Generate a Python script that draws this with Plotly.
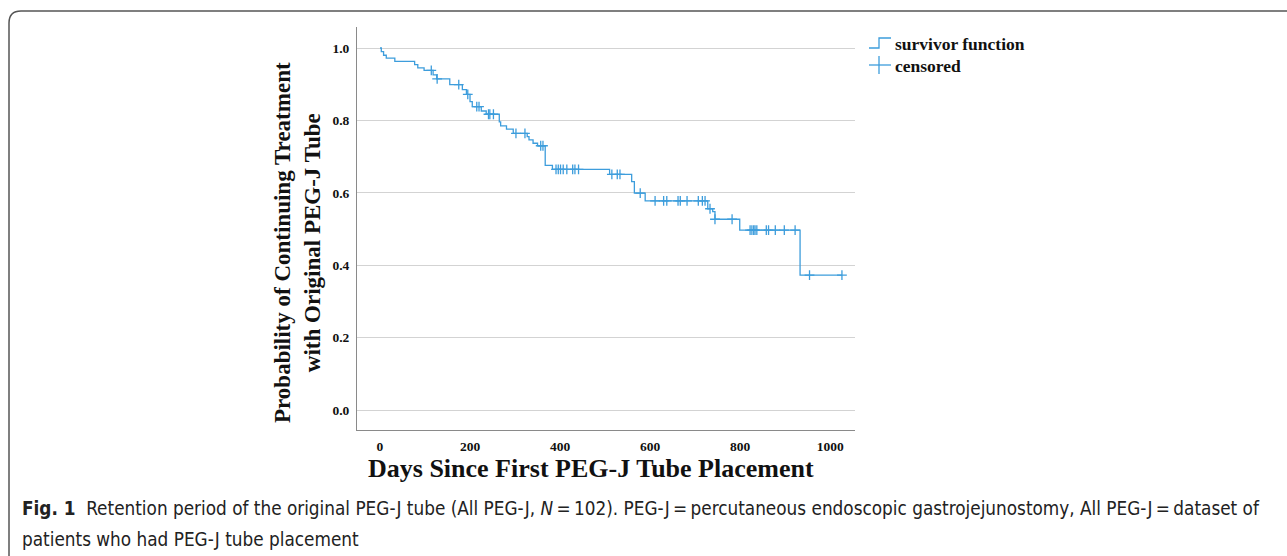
import numpy as np
import plotly.graph_objects as go

# ---- data ----
step_days = [0, 3, 8, 14, 33, 77, 84, 98, 118, 126, 155, 183, 192, 200, 205, 225, 236,
             265, 268, 281, 296, 327, 331, 340, 350, 367, 383, 510, 559, 565, 589,
             728, 739, 744, 799, 933]
step_surv = [1.0, 0.99, 0.98, 0.972, 0.963, 0.954, 0.945, 0.938, 0.926, 0.915, 0.899,
             0.885, 0.872, 0.852, 0.838, 0.826, 0.817, 0.796, 0.785, 0.776, 0.764,
             0.755, 0.746, 0.737, 0.730, 0.676, 0.665, 0.651, 0.631, 0.599, 0.578,
             0.556, 0.548, 0.527, 0.497, 0.373]
last_day = 1026
censor_days = [114, 127, 175, 195, 215, 220, 241, 244, 252, 302, 322, 357, 362,
               391, 396, 401, 407, 415, 428, 433, 441, 515, 527, 533, 578,
               611, 630, 637, 662, 667, 682, 707, 716, 722, 733, 744, 782,
               822, 826, 830, 833, 837, 858, 863, 878, 898, 922, 954, 1026]

x_ticks = [0, 200, 400, 600, 800, 1000]
y_ticks = [0.0, 0.2, 0.4, 0.6, 0.8, 1.0]
y_tick_text = ["0.0", "0.2", "0.4", "0.6", "0.8", "1.0"]

x_title = "Days Since First PEG-J Tube Placement"
y_title = "Probability of Continuing Treatment<br>with Original PEG-J Tube"
legend_labels = ["survivor function", "censored"]
caption_1 = ("<b>Fig. 1</b>  Retention period of the original PEG-J tube (All PEG-J, <i>N</i>\u2009=\u2009102). "
             "PEG-J\u2009=\u2009percutaneous endoscopic gastrojejunostomy, All PEG-J\u2009=\u2009dataset of")
caption_2 = "patients who had PEG-J tube placement"

# ---- layout geometry ----
W, H = 1287, 556
L, R, T, B = 357, 855, 27, 430
BLUE = "#3d9ddc"

def px(x):
    return (x - L) / (R - L)

def py(y):
    return (B - y) / (B - T)

curve_x = list(step_days) + [last_day]
curve_y = list(step_surv) + [step_surv[-1]]
idx = np.searchsorted(np.array(step_days), np.array(censor_days), side="right") - 1
censor_y = [step_surv[i] for i in idx]

fig = go.Figure()
fig.add_trace(go.Scatter(x=curve_x, y=curve_y, mode="lines", line_shape="hv",
                         line=dict(color=BLUE, width=1.3), showlegend=False, hoverinfo="skip"))
fig.add_trace(go.Scatter(x=censor_days, y=censor_y, mode="markers",
                         marker=dict(symbol="cross-thin", size=7, line=dict(color=BLUE, width=1.3)),
                         showlegend=False, hoverinfo="skip"))

serif = "Liberation Serif, Times New Roman, serif"
tickfont = dict(family=serif, size=13.5, color="#111", weight="bold")
fig.update_layout(
    width=W, height=H,
    margin=dict(l=L, r=W - R, t=T, b=H - B),
    paper_bgcolor="white", plot_bgcolor="white",
    xaxis=dict(range=[-51, 1055], tickvals=x_ticks, ticktext=[str(v) for v in x_ticks],
               showgrid=False, zeroline=False, showline=True, linecolor="#8a8a8a", linewidth=1,
               ticks="", tickfont=tickfont, ticklabelstandoff=4, fixedrange=True),
    yaxis=dict(range=[-0.055, 1.058], tickvals=y_ticks, ticktext=y_tick_text,
               showgrid=True, gridcolor="#d3d3d3", gridwidth=1, zeroline=False,
               showline=True, linecolor="#8a8a8a", linewidth=1,
               ticks="", tickfont=tickfont, ticklabelstandoff=4, fixedrange=True),
    showlegend=False,
)

# axis titles
fig.add_annotation(x=px(298), y=py(243), xref="paper", yref="paper", text="<b>" + y_title + "</b>",
                   textangle=-90, showarrow=False, font=dict(family=serif, size=23, color="#111"),
                   xanchor="center", yanchor="middle")
fig.add_annotation(x=px(591), y=py(468), xref="paper", yref="paper", text="<b>" + x_title + "</b>",
                   showarrow=False, font=dict(family=serif, size=26, color="#111"),
                   xanchor="center", yanchor="middle")

# custom legend
fig.add_shape(type="path", xref="paper", yref="paper",
              path=f"M {px(869)},{py(48)} L {px(879)},{py(48)} L {px(879)},{py(38)} L {px(891)},{py(38)}",
              line=dict(color=BLUE, width=1.3))
fig.add_shape(type="line", xref="paper", yref="paper", x0=px(869), x1=px(891), y0=py(65), y1=py(65),
              line=dict(color=BLUE, width=1.3))
fig.add_shape(type="line", xref="paper", yref="paper", x0=px(879), x1=px(879), y0=py(56), y1=py(74),
              line=dict(color=BLUE, width=1.3))
for lab, yy in zip(legend_labels, [44, 66]):
    fig.add_annotation(x=px(893), y=py(yy), xref="paper", yref="paper", text="<b>" + lab + "</b>",
                       showarrow=False, xanchor="left", yanchor="middle",
                       font=dict(family=serif, size=17.5, color="#111"))

# caption
cap_font = "Liberation Sans Narrow, DejaVu Sans Condensed, Arial Narrow, sans-serif"
fig.add_annotation(x=px(20), y=py(508), xref="paper", yref="paper", text=caption_1,
                   showarrow=False, xanchor="left", yanchor="middle",
                   font=dict(family=cap_font, size=18.8, color="#222"))
fig.add_annotation(x=px(20), y=py(539), xref="paper", yref="paper", text=caption_2,
                   showarrow=False, xanchor="left", yanchor="middle",
                   font=dict(family=cap_font, size=18.8, color="#222"))

# rounded frame
fig.add_shape(type="path", xref="paper", yref="paper",
              path=(f"M {px(9)},{py(600)} L {px(9)},{py(23)} Q {px(9)},{py(11)} {px(21)},{py(11)} "
                    f"L {px(1320)},{py(11)}"),
              line=dict(color="#555", width=1.5), layer="below")

fig.write_html("out.html", config={"displayModeBar": False},
               post_script="document.body.style.margin='0px';document.body.style.overflow='hidden';")
